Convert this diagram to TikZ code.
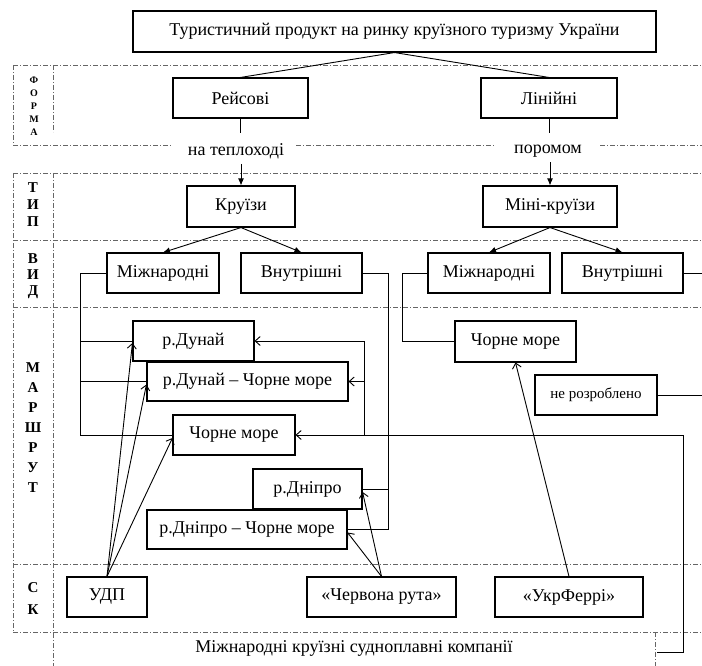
\documentclass[tikz,border=0pt]{standalone}
\usepackage{fontspec}
\setmainfont{Liberation Serif}
\usetikzlibrary{arrows.meta,calc}
\begin{document}
\begin{tikzpicture}[x=1pt,y=-1pt,
  box/.style={draw, line width=1.1pt, inner sep=0pt, font=\fontsize{18}{20}\selectfont},
  txt/.style={inner sep=1pt, font=\fontsize{18}{20}\selectfont},
  lab/.style={inner sep=0pt, align=center},
  conn/.style={line width=0.9pt},
  fill arr/.style={conn, -{Latex[length=7pt,width=6pt]}},
  barb/.style={conn, -{Straight Barb[length=5pt,width=9pt]}},
  dd/.style={line width=0.8pt, gray!80!black, dash pattern=on 5pt off 2pt on 1pt off 2pt}]
\useasboundingbox (0,0) rectangle (702,666);

% ---- dash-dot frame lines ----
\draw[dd] (13,65) -- (702,65);
\draw[dd] (13,65) -- (13,145);
\draw[dd] (53,65) -- (53,132);
\draw[dd] (13,145) -- (172,145);
\draw[dd] (296,145) -- (495,145);
\draw[dd] (600,145) -- (702,145);
\draw[dd] (13,173) -- (702,173);
\draw[dd] (13,240) -- (702,240);
\draw[dd] (13,307) -- (702,307);
\draw[dd] (13,564) -- (702,564);
\draw[dd] (13,632) -- (702,632);
\draw[dd] (13,173) -- (13,632);
\draw[dd] (53,173) -- (53,666);
\draw[dd] (655,632) -- (655,666);

% ---- left labels ----
\node[lab, font=\bfseries\fontsize{10}{13}\selectfont] (lforma) at (34,106) {Ф\\О\\Р\\М\\А};
\node[lab, font=\bfseries\fontsize{15}{17}\selectfont] (ltyp) at (33,205) {Т\\И\\П};
\node[lab, font=\bfseries\fontsize{15}{16}\selectfont] (lvyd) at (33,276) {В\\И\\Д};
\node[lab, font=\bfseries\fontsize{15}{20}\selectfont] (lmarsh) at (33,428) {М\\А\\Р\\Ш\\Р\\У\\Т};
\node[lab, font=\bfseries\fontsize{15}{22}\selectfont] (lsk) at (33,599) {С\\К};

% ---- boxes ----
\node[box, minimum width=523pt, minimum height=41pt] (title) at (394.5,31.5) {Туристичний продукт на ринку круїзного туризму України};
\node[box, minimum width=135pt, minimum height=40pt] (reis) at (240.5,98) {Рейсові};
\node[box, minimum width=136pt, minimum height=40pt] (lin) at (549,98) {Лінійні};
\node[txt] (teplo) at (236,151) {на теплоході};
\node[txt] (porom) at (548,151) {поромом};
\node[box, minimum width=108pt, minimum height=41pt] (kruizy) at (241,206.5) {Круїзи};
\node[box, minimum width=134pt, minimum height=41pt] (minik) at (550,206.5) {Міні-круїзи};
\node[box, minimum width=112pt, minimum height=40pt] (mizhL) at (163,273) {Міжнародні};
\node[box, minimum width=121pt, minimum height=40pt] (vnutL) at (301.5,273) {Внутрішні};
\node[box, minimum width=122pt, minimum height=40pt] (mizhR) at (489,273) {Міжнародні};
\node[box, minimum width=121pt, minimum height=40pt] (vnutR) at (622.5,273) {Внутрішні};
\node[box, minimum width=121pt, minimum height=40pt] (dunai) at (193.5,341) {р.Дунай};
\node[box, minimum width=201pt, minimum height=39pt] (dunaiCM) at (247.5,381.5) {р.Дунай – Чорне море};
\node[box, minimum width=122pt, minimum height=40pt] (chmL) at (234,435) {Чорне море};
\node[box, minimum width=109pt, minimum height=40pt] (dnipro) at (307.5,489) {р.Дніпро};
\node[box, minimum width=200pt, minimum height=39pt] (dniproCM) at (247,529.5) {р.Дніпро – Чорне море};
\node[box, minimum width=121pt, minimum height=41pt] (chmR) at (515.5,341.5) {Чорне море};
\node[box, minimum width=122pt, minimum height=40pt, font=\fontsize{15}{17}\selectfont] (nerozr) at (596,395) {не розроблено};
\node[box, minimum width=80pt, minimum height=40pt] (udp) at (107,597) {УДП};
\node[box, minimum width=149pt, minimum height=40pt] (chr) at (381.5,597) {«Червона рута»};
\node[box, minimum width=148pt, minimum height=40pt] (ukr) at (569,597) {«УкрФеррі»};
\node[txt] (mk) at (354,648) {Міжнародні круїзні судноплавні компанії};

% ---- connectors ----
\draw[conn] (title.south) -- (reis.north);
\draw[conn] (title.south) -- (lin.north);
\draw[conn] (reis.south) -- ++(0,14);
\draw[conn] (lin.south) -- ++(0,14);
\draw[fill arr] ([yshift=-4pt]kruizy.north |- teplo.south) -- (kruizy.north);
\draw[fill arr] ([yshift=-4pt]minik.north |- porom.south) -- (minik.north);
\draw[fill arr] (kruizy.south) -- (mizhL.north);
\draw[fill arr] (kruizy.south) -- (vnutL.north);
\draw[fill arr] (minik.south) -- (mizhR.north);
\draw[fill arr] (minik.south) -- (vnutR.north);

\coordinate (lx) at (80,0);
\coordinate (rx) at (388,0);
\coordinate (rx2) at (402,0);
\coordinate (jx) at (364,0);
\coordinate (edgeA) at (702,273);
\coordinate (edgeB) at (702,395);
\coordinate (mkend) at (657,652);
\coordinate (mkcorner) at (683,652);

\draw[conn] (mizhL.west) -| (lx |- chmL.west) -- (chmL.west);
\draw[conn] (lx |- dunai.west) -- (dunai.west);
\draw[conn] (lx |- dunaiCM.west) -- (dunaiCM.west);

\draw[conn] (vnutL.east) -| (rx |- dniproCM.east) -- (dniproCM.east);
\draw[conn] (rx |- dnipro.east) -- (dnipro.east);

\draw[conn] (mizhR.west) -| (rx2 |- chmR.west) -- (chmR.west);
\draw[conn] (vnutR.east) -- (edgeA);
\draw[conn] (nerozr.east) -- (edgeB);

\draw[barb] (mkend) -- (mkcorner) |- (chmL.east);
\draw[barb] (jx |- chmL.east) |- (dunaiCM.east);
\draw[barb] (jx |- dunaiCM.east) |- (dunai.east);

\draw[barb] (udp.north) -- ([yshift=-2pt]dunai.west);
\draw[barb] (udp.north) -- ([yshift=-3pt]dunaiCM.west);
\draw[barb] (udp.north) -- ([yshift=-3pt]chmL.west);
\draw[barb] (chr.north) -- ([yshift=-3pt]dnipro.east);
\draw[barb] (chr.north) -- ([yshift=-3pt]dniproCM.east);
\draw[barb] (ukr.north) -- (chmR.south);
\end{tikzpicture}
\end{document}
